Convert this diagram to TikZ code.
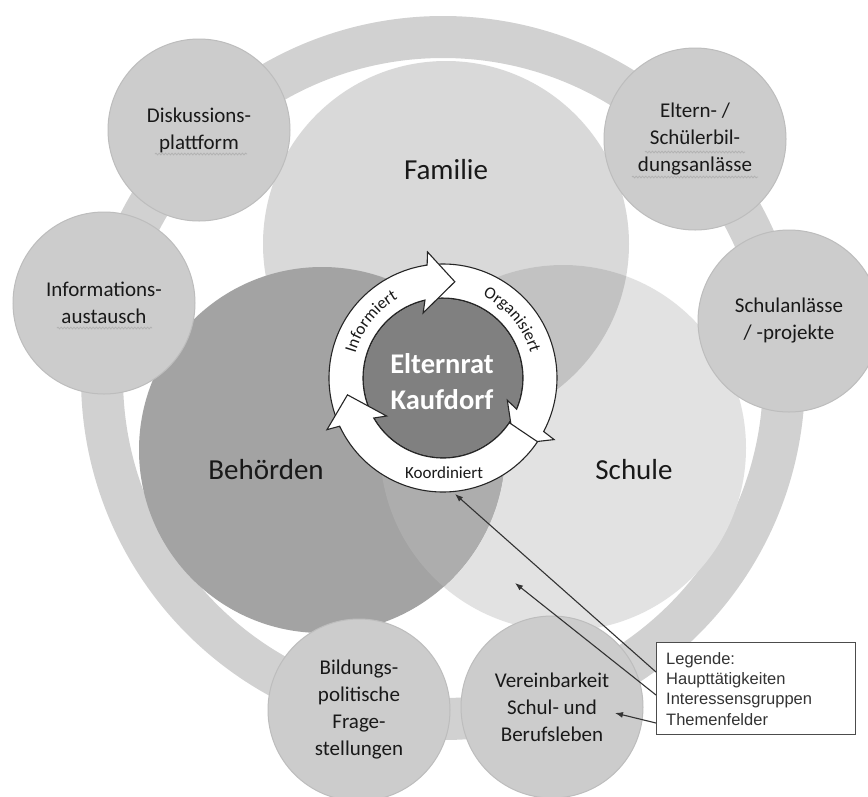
\documentclass[tikz,border=0pt]{standalone}
\usepackage{fontspec}
\setmainfont{Carlito}
\newfontfamily\arialf{Liberation Sans}
\usetikzlibrary{decorations.text,decorations.pathmorphing,arrows.meta,calc}
\definecolor{ringc}{gray}{0.82}
\definecolor{smallc}{gray}{0.80}
\definecolor{smallb}{gray}{0.74}
\definecolor{famc}{gray}{0.85}
\definecolor{schc}{gray}{0.885}
\definecolor{behc}{gray}{0.64}
\definecolor{fsc}{gray}{0.76}
\definecolor{bsc}{gray}{0.68}
\definecolor{ctrc}{gray}{0.50}
\definecolor{txtc}{gray}{0.10}
\newcommand\ringfont{\fontsize{17}{20}\selectfont}
\newcommand\cycarrow[2]{%
  \filldraw[cyc, shift={(443,-378)}] (#1:114) arc[start angle=#1, end angle=#2+15, radius=114]
    -- (#2+14:127) -- (#2:97) -- (#2+24:68) -- (#2+20:80)
    arc[start angle=#2+20, end angle=#1, radius=80] -- cycle;}
\tikzset{
  topic/.style={circle, fill=smallc, draw=smallb, line width=1, minimum size=182, inner sep=0,
    align=center, font=\fontsize{21}{27}\selectfont, text=txtc},
  biglbl/.style={font=\fontsize{29}{35}\selectfont, text=txtc},
  cyc/.style={fill=white, draw=black!85, line width=1.1, line join=miter},
  wave/.style={draw=gray!60, line width=0.8, decorate, decoration={snake, amplitude=0.9pt, segment length=3.2pt}},
  legarrow/.style={draw=black!80, line width=1.1, -{Latex[length=8pt,width=6pt]}},
  legbox/.style={draw=black!70, line width=1.4, fill=white, anchor=north west, minimum width=199,
    minimum height=92, text width=180, inner xsep=9, inner ysep=0, align=left,
    font=\arialf\fontsize{16.5}{20.3}\selectfont, text=black!80},
  ringlbl/.style={font=\ringfont, text=txtc},
}
\begin{document}
\begin{tikzpicture}[x=1pt,y=1pt]
\fill[white] (0,0) rectangle (868,-796);
\useasboundingbox (0,0) rectangle (868,-796);
\coordinate (C) at (443,-378);
% outer ring
\draw[ringc, line width=42] (C) circle[radius=341];
% big circles
\coordinate (Fc) at (446,-244);
\coordinate (Bc) at (322,-450);
\coordinate (Sc) at (563,-448);
\fill[famc] (Fc) circle[radius=183];
\fill[schc] (Sc) circle[radius=183];
\fill[behc] (Bc) circle[radius=183];
\begin{scope}
  \clip (Sc) circle[radius=183];
  \fill[fsc] (Fc) circle[radius=183];
  \fill[bsc] (Bc) circle[radius=183];
\end{scope}
\node[biglbl] (fam) at (446,-170) {Familie};
\node[biglbl] (beh) at (266,-470) {Behörden};
\node[biglbl] (sch) at (634,-470) {Schule};
% topic circles
\node[topic] (disk) at (199,-130) {Diskussions-\\plattform};
\node[topic] (info) at (104,-303) {Informations-\\austausch};
\node[topic] (elt) at (695,-139) {Eltern- /\\Schülerbil-\\dungsanlässe};
\node[topic] (schul) at (789,-321) {Schulanlässe\\/ -projekte};
\node[topic] (bild) at (359,-710) {Bildungs-\\politische\\Frage-\\stellungen};
\node[topic] (ver) at (552,-707) {Vereinbarkeit\\Schul- und\\Berufsleben};
% spelling squiggles
\draw[wave] (155,-154) -- (247,-154);
\draw[wave] (57,-328) -- (152,-328);
\draw[wave] (645,-152) -- (745,-152);
\draw[wave] (632,-177) -- (758,-177);
% centre
\fill[ctrc, draw=black, line width=1.1] (C) circle[radius=80];
\cycarrow{99}{-43}
\cycarrow{206}{83}
\cycarrow{-34}{-170}
\node[font=\fontsize{28.5}{36}\selectfont\bfseries, text=white, align=center] (er) at (442,-382) {Elternrat\\Kaufdorf};
\path[shift={(443,-378)}, decorate, decoration={text along path, text align=center, text color=txtc,
  text={|\ringfont|Informiert}}] (177:91) arc[start angle=177, end angle=107, radius=91];
\path[shift={(443,-378)}, decorate, decoration={text along path, text align=center, text color=txtc,
  text={|\ringfont|Organisiert}}] (75:91) arc[start angle=75, end angle=5, radius=91];
\node[ringlbl] (koo) at (444,-473) {Koordiniert};
% legend
\node[legbox] (leg) at (656,-642) {Legende:\\Haupttätigkeiten\\Interessensgruppen\\Themenfelder};
\coordinate (t1) at (455,-494);
\coordinate (t2) at (515,-583);
\coordinate (t3) at (615,-713);
\draw[legarrow] ($(leg.north west)+(0,-30)$) -- (t1);
\draw[legarrow] ($(leg.north west)+(0,-53)$) -- (t2);
\draw[legarrow] ($(leg.north west)+(0,-81)$) -- (t3);
\end{tikzpicture}
\end{document}
